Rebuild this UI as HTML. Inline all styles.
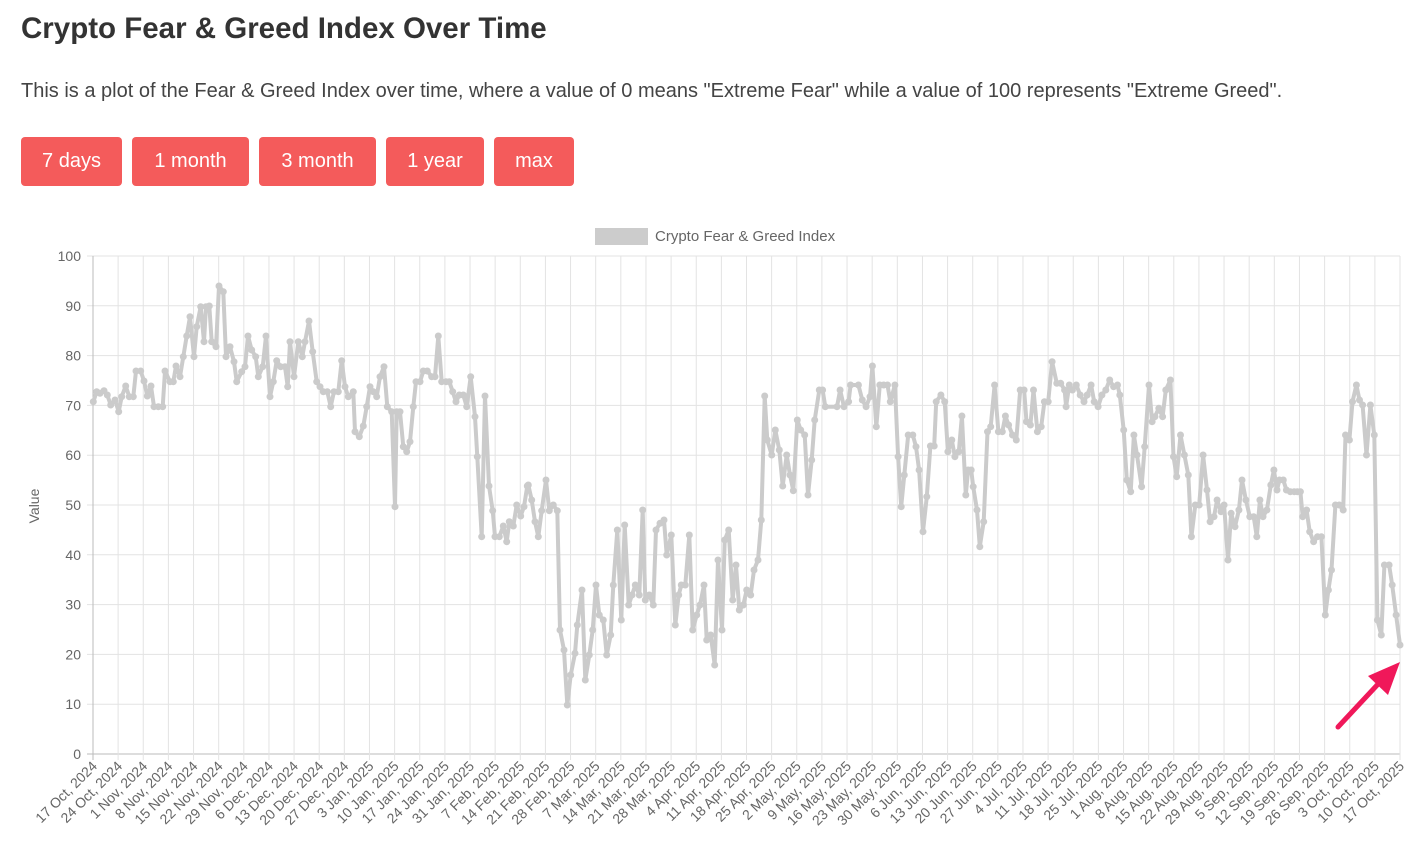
<!DOCTYPE html>
<html><head><meta charset="utf-8">
<style>
body{margin:0;background:#fff;font-family:"Liberation Sans",sans-serif;width:1428px;height:857px;overflow:hidden;position:relative}
h1{position:absolute;left:21px;top:12px;margin:0;font-size:29.5px;font-weight:bold;color:#333}
p{position:absolute;left:21px;top:80px;margin:0;font-size:20px;color:#444}
.b{position:absolute;top:137px;height:49px;background:#f45b5b;color:#fff;font-size:20px;border-radius:4px;display:flex;align-items:center;justify-content:center}
svg{position:absolute;left:0;top:0}
</style></head><body>
<h1>Crypto Fear &amp; Greed Index Over Time</h1>
<p>This is a plot of the Fear &amp; Greed Index over time, where a value of 0 means "Extreme Fear" while a value of 100 represents "Extreme Greed".</p>
<div class="b" style="left:21px;width:101px">7 days</div>
<div class="b" style="left:132px;width:117px">1 month</div>
<div class="b" style="left:259px;width:117px">3 month</div>
<div class="b" style="left:386px;width:98px">1 year</div>
<div class="b" style="left:494px;width:80px">max</div>
<svg id="s" width="1428" height="857" xmlns="http://www.w3.org/2000/svg"></svg>
<script>
var s=document.getElementById('s'),h='';
var X0=93,X1=1400,Y0=754,Y1=256;
h+='<rect x="595" y="228" width="53" height="17" fill="#ccc"/><text x="655" y="241" font-size="15" fill="#666">Crypto Fear &amp; Greed Index</text>';
for(var i=0;i<=10;i++){var y=Y0-i*(Y0-Y1)/10;h+='<line x1="87" x2="1400" y1="'+y+'" y2="'+y+'" stroke="'+(i==0?'#bbb':'#e3e3e3')+'"/>';h+='<text x="81" y="'+(y+5)+'" font-size="14" fill="#666" text-anchor="end">'+(i*10)+'</text>';}
var M=['Jan','Feb','Mar','Apr','May','Jun','Jul','Aug','Sep','Oct','Nov','Dec'];
var d0=new Date(Date.UTC(2024,10,1));
for(var k=0;k<=52;k++){var x=X0+k*(X1-X0)/52;h+='<line x1="'+x+'" x2="'+x+'" y1="256" y2="760" stroke="'+(k==0?'#bbb':'#e3e3e3')+'"/>';
var t;if(k==0)t='17 Oct, 2024';else if(k==1)t='24 Oct, 2024';else{var d=new Date(d0.getTime()+(k-2)*7*864e5);t=d.getUTCDate()+' '+M[d.getUTCMonth()]+', '+d.getUTCFullYear();}
h+='<text transform="translate('+(x+5)+',767) rotate(-45)" font-size="14" fill="#666" text-anchor="end">'+t+'</text>';}
h+='<text transform="translate(39,506) rotate(-90)" font-size="14" fill="#666" text-anchor="middle">Value</text>';
var z1=[[10,395],[20,365],[30,370],[42,362],[52,375],[62,405],[75,390],[86,425],[95,380],[107,348],[118,380],[130,380],[138,303],[152,303],[162,333],[172,378],[183,348],[192,410],[205,410],[218,410],[225,303],[240,335],[250,335],[258,288],[270,320],[280,260],[290,198],[300,140],[312,260],[320,170],[332,110],[342,215],[348,110],[358,108],[365,215],[378,230],[387,48],[400,65],[408,260],[420,230],[432,275],[440,335],[455,305],[465,290],[474,198],[485,240],[497,260],[505,320],[518,290],[528,198],[540,380],[550,335],[560,272],[572,290],[585,290],[593,350],[600,215],[612,320],[625,215],[637,260],[645,215],[657,153],[668,245],[680,335],[690,350],[700,365],[712,365],[722,410],[732,365],[745,365],[755,272],[765,350],[775,380],[790,365],[795,485],[808,500],[820,468],[830,410],[840,350],[850,365],[860,380],[870,320],[882,290],[892,410],[905,425],[915,710],[920,425],[930,425],[940,530],[950,545],[960,515],[970,410],[978,335],[990,335],[1000,303],[1012,303],[1025,320],[1035,320],[1045,198],[1055,335],[1068,335],[1078,335],[1088,365],[1098,395],[1108,375],[1120,375],[1130,410],[1142,320],[1155,440],[1162,560],[1175,800],[1185,378],[1197,648],[1208,722],[1215,800],[1228,800],[1240,768],[1250,815],[1258,755],[1270,768],[1280,705],[1292,738],[1302,710],[1312,648]];
var z2=[[205,435],[215,480],[225,545],[235,590],[245,512],[258,420],[268,512],[280,495],[292,512],[300,870],[312,930],[322,1095],[332,1005],[345,940],[352,855],[366,750],[376,1020],[388,945],[398,870],[408,735],[418,825],[430,840],[440,945],[452,885],[460,735],[472,570],[484,840],[494,555],[506,795],[516,765],[526,735],[538,765],[548,510],[556,780],[568,765],[580,795],[588,570],[600,550],[612,540],[620,645],[634,585],[646,855],[656,765],[664,735],[676,735],[688,585],[698,870],[710,825],[720,795],[732,735],[740,900],[752,885],[764,975],[774,660],[786,870],[794,600],[806,570],[818,780],[828,675],[838,810],[850,795],[860,750],[872,765],[882,690],[894,660],[904,540],[914,168],[922,300],[935,345],[946,270],[958,330],[968,438],[980,345],[990,405],[1000,452],[1012,240],[1022,270],[1034,285],[1044,465],[1055,360],[1064,240],[1078,150]];
var z3=[[58,150],[65,200],[95,200],[103,150],[113,200],[125,185],[130,135],[150,135],[160,180],[170,200],[180,170],[186,78],[196,260],[205,135],[215,135],[225,135],[232,185],[244,135],[252,350],[260,500],[268,405],[278,285],[290,285],[298,320],[306,390],[316,575],[326,470],[335,318],[345,318],[350,185],[362,165],[372,185],[380,335],[390,300],[398,350],[408,335],[416,228],[426,465],[432,390],[440,390],[445,440],[455,510],[462,620],[472,545],[482,275],[490,260],[500,135],[510,275],[520,275],[528,228],[536,255],[546,285],[556,300],[566,150],[576,150],[582,245],[592,255],[600,150],[610,275],[620,260],[628,185],[638,185],[648,65],[660,130],[670,130],[680,150],[684,200],[692,135],[700,150],[710,135],[720,165],[730,185],[738,165],[748,135],[756,185],[766,200],[776,165],[786,150],[796,120],[806,140],[816,135],[822,165],[832,270],[840,420],[850,455],[858,285],[866,345],[878,440],[886,320],[897,135],[905,245],[912,230],[922,205],[932,230],[940,150],[952,120],[960,350],[968,410],[978,285],[988,345],[998,405],[1006,590],[1016,495],[1026,495],[1036,345],[1046,450],[1054,545],[1064,530],[1072,480],[1082,515],[1090,495],[1100,660],[1108,520],[1118,560],[1128,510],[1136,420],[1146,480],[1156,530],[1166,530],[1174,590],[1182,480],[1190,530],[1200,510],[1210,435],[1218,390],[1226,450],[1232,420],[1242,420],[1250,450],[1260,455],[1270,455],[1278,455],[1286,455],[1292,530],[1302,510],[1310,575],[1320,605],[1330,590],[1340,590],[1350,825],[1358,750],[1366,690],[1376,495],[1386,495],[1396,510],[1402,285],[1412,300],[1420,185],[1430,135],[1438,180],[1446,195],[1456,345],[1466,195],[1476,285],[1484,840],[1494,885],[1502,675],[1514,675],[1522,735],[1532,825],[1542,915]];
var P=[];
z1.forEach(function(p){P.push([90+p[0]/3,270+p[1]/3]);});
z2.forEach(function(p){P.push([460+p[0]/3,340+p[1]/3]);});
z3.forEach(function(p){P.push([800+p[0]/2.57,340+p[1]/3]);});
var pts=P.map(function(p){return p[0].toFixed(1)+','+p[1].toFixed(1);}).join(' ');
h+='<polyline points="'+pts+'" fill="none" stroke="#cbcbcb" stroke-width="4" stroke-linejoin="round"/>';
P.forEach(function(p){h+='<circle cx="'+p[0].toFixed(1)+'" cy="'+p[1].toFixed(1)+'" r="3.5" fill="#cbcbcb"/>';});
h+='<line x1="1338" y1="727" x2="1380" y2="682" stroke="#f0185a" stroke-width="5" stroke-linecap="round"/><polygon points="1400,662 1368,676 1388,695" fill="#f0185a"/>';
s.innerHTML=h;
</script>
</body></html>
